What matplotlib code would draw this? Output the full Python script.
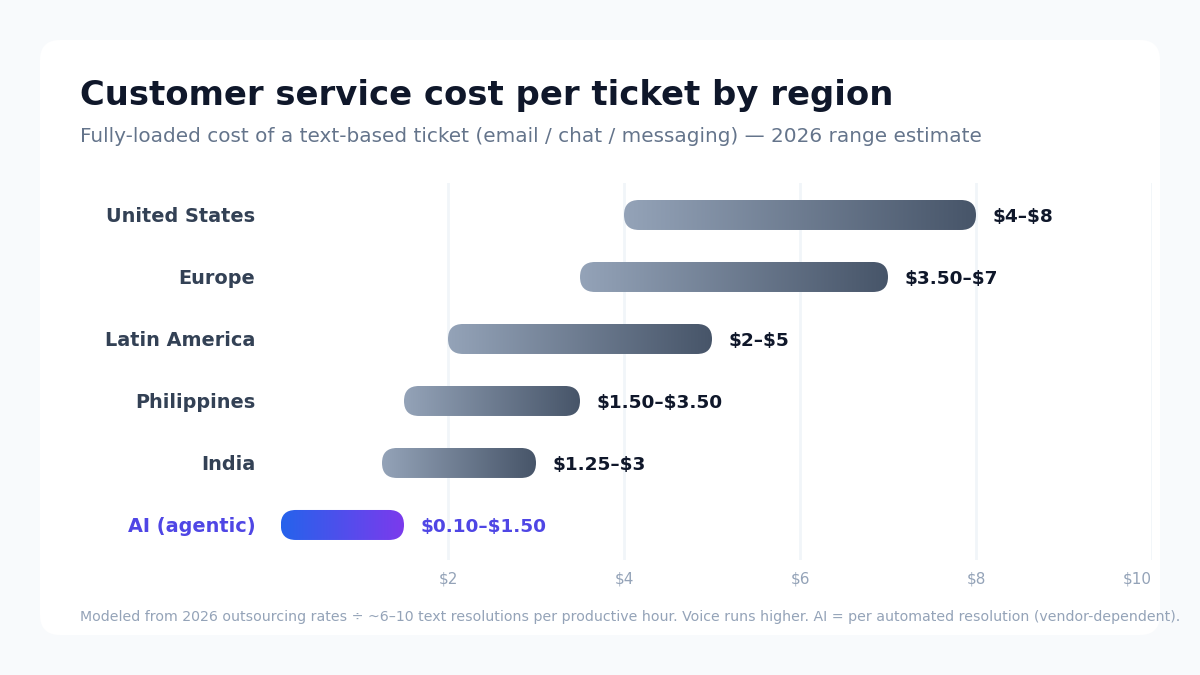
import numpy as np
import matplotlib
matplotlib.use("Agg")
from matplotlib import pyplot as plt
from matplotlib.patches import FancyBboxPatch

# --- data ---
regions = ["United States", "Europe", "Latin America", "Philippines", "India", "AI (agentic)"]
low = [4.0, 3.5, 2.0, 1.5, 1.25, 0.10]
high = [8.0, 7.0, 5.0, 3.5, 3.0, 1.50]
range_labels = ["$4–$8", "$3.50–$7", "$2–$5", "$1.50–$3.50", "$1.25–$3", "$0.10–$1.50"]
x_ticks = [2, 4, 6, 8, 10]
x_tick_labels = ["$2", "$4", "$6", "$8", "$10"]

plt.rcParams['font.family'] = ['DejaVu Sans']

W, H = 1200, 675
fig = plt.figure(figsize=(12, 6.75), dpi=100)
fig.patch.set_facecolor("#f8fafc")

# white card behind everything
card_ax = fig.add_axes([0, 0, 1, 1])
card_ax.set_xlim(0, W)
card_ax.set_ylim(H, 0)
card_ax.axis("off")
card_ax.add_patch(FancyBboxPatch((40, 40), 1120, 595,
                                 boxstyle="round,pad=0,rounding_size=20",
                                 facecolor="white", edgecolor="none"))

# plot axes: x 0..10 maps to px 272..1152, rows span px 183..560
left, right, top, bottom = 272, 1152, 183, 560
ax = fig.add_axes([left / W, 1 - bottom / H, (right - left) / W, (bottom - top) / H])
ax.set_facecolor("none")
n = len(regions)
ax.set_xlim(0, 10)
ax.set_ylim(n - 1 + 0.565, -0.516)
for s in ax.spines.values():
    s.set_visible(False)

for t in x_ticks:
    ax.axvline(t, color="#f1f5f9", lw=2, zorder=0)

px_x = (right - left) / 10.0
px_y = (bottom - top) / (n - 1 + 0.565 + 0.516)
bar_h = 30 / px_y
aspect = px_x / px_y

grad = np.linspace(0, 1, 256).reshape(1, -1)
for i in range(n):
    is_ai = regions[i].startswith("AI")
    if is_ai:
        cmap = matplotlib.colors.LinearSegmentedColormap.from_list("ai", ["#2563eb", "#7c3aed"])
    else:
        cmap = matplotlib.colors.LinearSegmentedColormap.from_list("g", ["#94a3b8", "#475569"])
    x0, x1 = low[i], high[i]
    patch = FancyBboxPatch((x0, i - bar_h / 2), x1 - x0, bar_h,
                           boxstyle="round,pad=0,rounding_size=%f" % (15 / px_x),
                           mutation_aspect=aspect,
                           facecolor="none", edgecolor="none")
    ax.add_patch(patch)
    im = ax.imshow(grad, cmap=cmap, aspect="auto",
                   extent=(x0, x1, i + bar_h / 2, i - bar_h / 2), zorder=2)
    im.set_clip_path(patch)
    ax.text(x1 + 16 / px_x, i + 0.03, range_labels[i], ha="left", va="center",
            fontsize=13.3, fontweight="bold", parse_math=False,
            color="#4f46e5" if is_ai else "#0f172a")

ax.set_yticks(range(n))
ax.set_yticklabels(regions)
for lbl, r in zip(ax.get_yticklabels(), regions):
    lbl.set_fontsize(13.9)
    lbl.set_fontweight("bold")
    lbl.set_color("#4f46e5" if r.startswith("AI") else "#334155")
ax.tick_params(axis="y", length=0, pad=12)

ax.set_xticks(x_ticks)
ax.set_xticklabels(x_tick_labels)
ax.tick_params(axis="x", length=0, pad=8, labelsize=11, labelcolor="#94a3b8")
ax.get_xticklabels()[-1].set_ha("right")

fig.text(80 / W, 1 - 95 / H, "Customer service cost per ticket by region",
         fontsize=24.4, fontweight="bold", color="#0f172a", va="center")
fig.text(80 / W, 1 - 137 / H,
         "Fully-loaded cost of a text-based ticket (email / chat / messaging) — 2026 range estimate",
         fontsize=14.4, color="#64748b", va="center")
fig.text(80 / W, 1 - 617 / H,
         "Modeled from 2026 outsourcing rates ÷ ~6–10 text resolutions per productive hour. "
         "Voice runs higher. AI = per automated resolution (vendor-dependent).",
         fontsize=10.17, color="#94a3b8", va="center")

fig.savefig("out.png", dpi=100, facecolor=fig.get_facecolor())
